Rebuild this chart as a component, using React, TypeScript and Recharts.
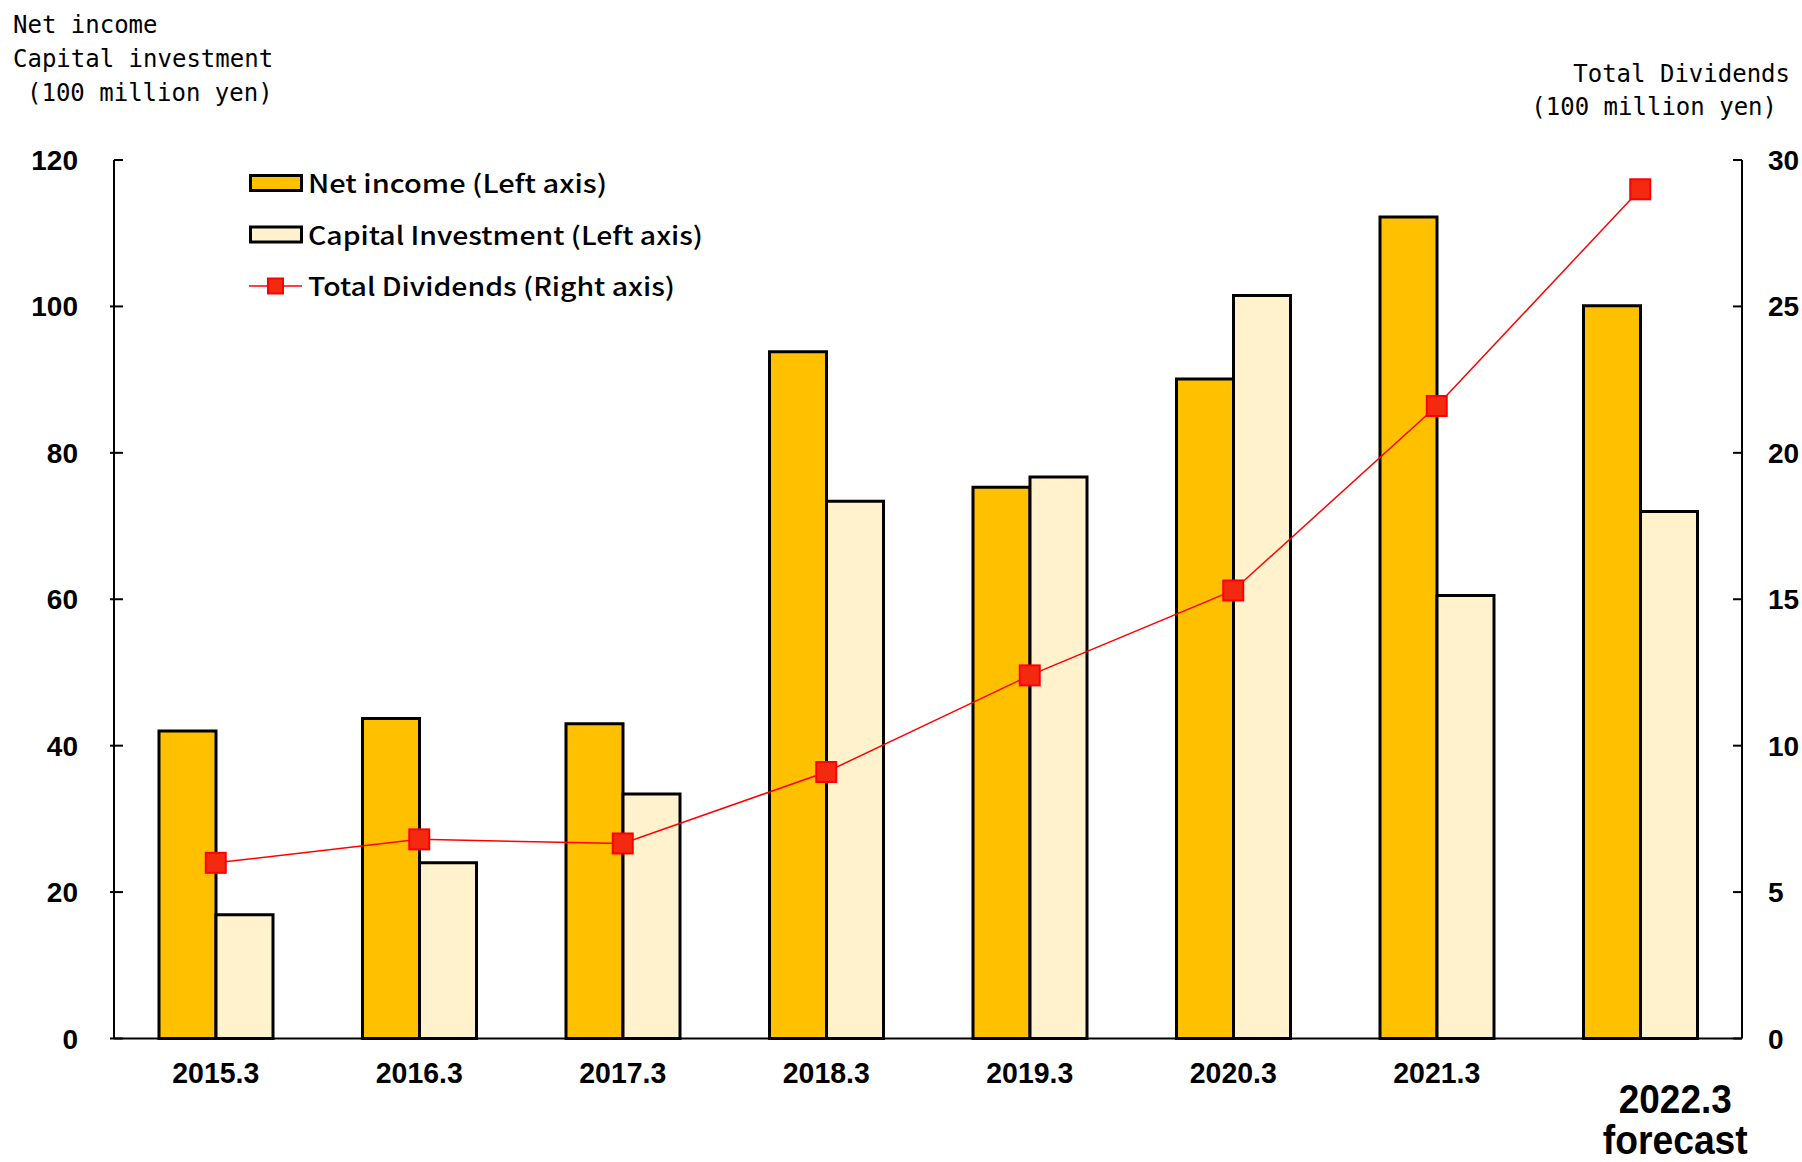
import { ComposedChart, Bar, Line, XAxis, YAxis, Legend } from 'recharts';

const CATEGORIES = ['2015.3', '2016.3', '2017.3', '2018.3', '2019.3', '2020.3', '2021.3', '2022.3'];
const NET_INCOME = [42.0, 43.7, 43.0, 93.8, 75.3, 90.1, 112.2, 100.1];
const CAPITAL_INVESTMENT = [16.9, 24.0, 33.4, 73.4, 76.7, 101.5, 60.5, 72.0];
const TOTAL_DIVIDENDS = [6.0, 6.8, 6.66, 9.1, 12.4, 15.3, 21.6, 29.0];
const LEFT_TICKS = [0, 20, 40, 60, 80, 100, 120];
const RIGHT_TICKS = [0, 5, 10, 15, 20, 25, 30];
const FORECAST_CATEGORY = '2022.3';
const FORECAST_NOTE = 'forecast';

const SERIES_NAMES = {
  net: 'Net income (Left axis)',
  capex: 'Capital Investment (Left axis)',
  div: 'Total Dividends (Right axis)',
};
const LEGEND_ORDER = ['net', 'capex', 'div'];

const data = CATEGORIES.map((year, i) => ({
  year,
  net: NET_INCOME[i],
  capex: CAPITAL_INVESTMENT[i],
  div: TOTAL_DIVIDENDS[i],
}));

const GOLD = '#FFC000';
const CREAM = '#FFF2CC';
const RED = '#FF0000';
const MARKER = '#F42A10';
const NUM_FONT = '"Liberation Sans", Arial, sans-serif';
const MONO_FONT = '"DejaVu Sans Mono", "Liberation Mono", monospace';
const JP_FONT = '"Noto Sans CJK JP", "Noto Sans", sans-serif';

const LEFT_GAP = 36;
const RIGHT_GAP = 26;

function LeftTick({ x, y, payload }: any) {
  const ax = x + LEFT_GAP;
  const top = payload.value === LEFT_TICKS[LEFT_TICKS.length - 1];
  return (
    <g>
      <line x1={top ? ax : ax - 4} x2={ax + 9} y1={y} y2={y} stroke="#000" strokeWidth={2} />
      <text x={x} y={y} dy="0.36em" textAnchor="end" fontFamily={NUM_FONT} fontWeight={700} fontSize={28} fill="#000">
        {payload.value}
      </text>
    </g>
  );
}

function RightTick({ x, y, payload }: any) {
  const ax = x - RIGHT_GAP;
  return (
    <g>
      <line x1={ax - 9} x2={ax} y1={y} y2={y} stroke="#000" strokeWidth={2} />
      <text x={x} y={y} dy="0.36em" textAnchor="start" fontFamily={NUM_FONT} fontWeight={700} fontSize={28} fill="#000">
        {payload.value}
      </text>
    </g>
  );
}

function XTick({ x, y, payload }: any) {
  if (payload.value === FORECAST_CATEGORY) {
    return (
      <g fontFamily={NUM_FONT} fontWeight={700} fontSize={40} fill="#000" textAnchor="middle">
        <text x={x + 35} y={y + 74} textLength={113} lengthAdjust="spacingAndGlyphs">{payload.value}</text>
        <text x={x + 35} y={y + 115} textLength={145} lengthAdjust="spacingAndGlyphs">{FORECAST_NOTE}</text>
      </g>
    );
  }
  return (
    <text x={x} y={y + 44} textAnchor="middle" fontFamily={NUM_FONT} fontWeight={700} fontSize={30} fill="#000"
      textLength={87} lengthAdjust="spacingAndGlyphs">
      {payload.value}
    </text>
  );
}

function SquareDot({ cx, cy, index }: any) {
  return <rect key={`d-${index}`} x={cx - 10} y={cy - 10} width={20} height={20} fill={MARKER} stroke={RED} strokeWidth={2} />;
}

const LEGEND_WIDTHS: Record<string, number> = { net: 299, capex: 395, div: 367 };

function LegendBox({ payload }: any) {
  const entries = LEGEND_ORDER.map((k) => (payload || []).find((e: any) => e.dataKey === k)).filter(Boolean);
  return (
    <svg width={440} height={135} style={{ display: 'block', overflow: 'visible' }}>
      {entries.map((entry: any, i: number) => {
        const cy = 13 + i * 51.5;
        const key = entry.dataKey as string;
        return (
          <g key={key}>
            {key === 'div' ? (
              <g>
                <line x1={0} x2={53} y1={cy} y2={cy} stroke={RED} strokeWidth={1.5} />
                <rect x={19} y={cy - 7.5} width={15} height={15} fill={MARKER} stroke={RED} strokeWidth={2} />
              </g>
            ) : (
              <rect x={1.5} y={cy - 7.5} width={51} height={15} fill={key === 'net' ? GOLD : CREAM} stroke="#000" strokeWidth={3} />
            )}
            <text x={59} y={cy + 10} fontFamily={JP_FONT} fontWeight={500} fontSize={25} fill="#000"
              textLength={LEGEND_WIDTHS[key]} lengthAdjust="spacingAndGlyphs">
              {entry.value}
            </text>
          </g>
        );
      })}
    </svg>
  );
}

export default function App() {
  return (
    <div style={{ position: 'absolute', left: 0, top: 0, width: 1802, height: 1162, background: '#fff' }}>
      <ComposedChart width={1802} height={1162} data={data} margin={{ top: 160, right: 0, bottom: 23.5, left: 0 }} barGap={0}>
        <XAxis
          dataKey="year"
          height={100}
          interval={0}
          tickSize={0}
          tickMargin={0}
          tickLine={false}
          axisLine={{ stroke: '#000', strokeWidth: 2 }}
          tick={<XTick />}
        />
        <YAxis
          yAxisId="left"
          width={114}
          domain={[0, 120]}
          ticks={LEFT_TICKS}
          tickSize={0}
          tickMargin={LEFT_GAP}
          tickLine={false}
          axisLine={{ stroke: '#000', strokeWidth: 2 }}
          tick={<LeftTick />}
        />
        <YAxis
          yAxisId="right"
          orientation="right"
          width={60}
          domain={[0, 30]}
          ticks={RIGHT_TICKS}
          tickSize={0}
          tickMargin={RIGHT_GAP}
          tickLine={false}
          axisLine={{ stroke: '#000', strokeWidth: 2 }}
          tick={<RightTick />}
        />
        <Legend
          layout="vertical"
          align="center"
          verticalAlign="middle"
          wrapperStyle={{ left: 249, top: 170, width: 440, height: 135 }}
          content={<LegendBox />}
        />
        <Bar yAxisId="left" dataKey="net" name={SERIES_NAMES.net} fill={GOLD} stroke="#000" strokeWidth={3} barSize={57} isAnimationActive={false} />
        <Bar yAxisId="left" dataKey="capex" name={SERIES_NAMES.capex} fill={CREAM} stroke="#000" strokeWidth={3} barSize={57} isAnimationActive={false} />
        <Line
          yAxisId="right"
          dataKey="div"
          name={SERIES_NAMES.div}
          type="linear"
          stroke={RED}
          strokeWidth={1.5}
          dot={<SquareDot />}
          activeDot={false}
          isAnimationActive={false}
        />
      </ComposedChart>
      <svg width={1802} height={130} style={{ position: 'absolute', left: 0, top: 0, pointerEvents: 'none' }}>
        <g fontFamily={MONO_FONT} fontSize={24} fill="#000">
          <text x={13} y={33}>Net income</text>
          <text x={13} y={67}>Capital investment</text>
          <text x={27} y={101}>(100 million yen)</text>
          <text x={1790} y={82} textAnchor="end">Total Dividends</text>
          <text x={1777} y={115} textAnchor="end">(100 million yen)</text>
        </g>
      </svg>
    </div>
  );
}
